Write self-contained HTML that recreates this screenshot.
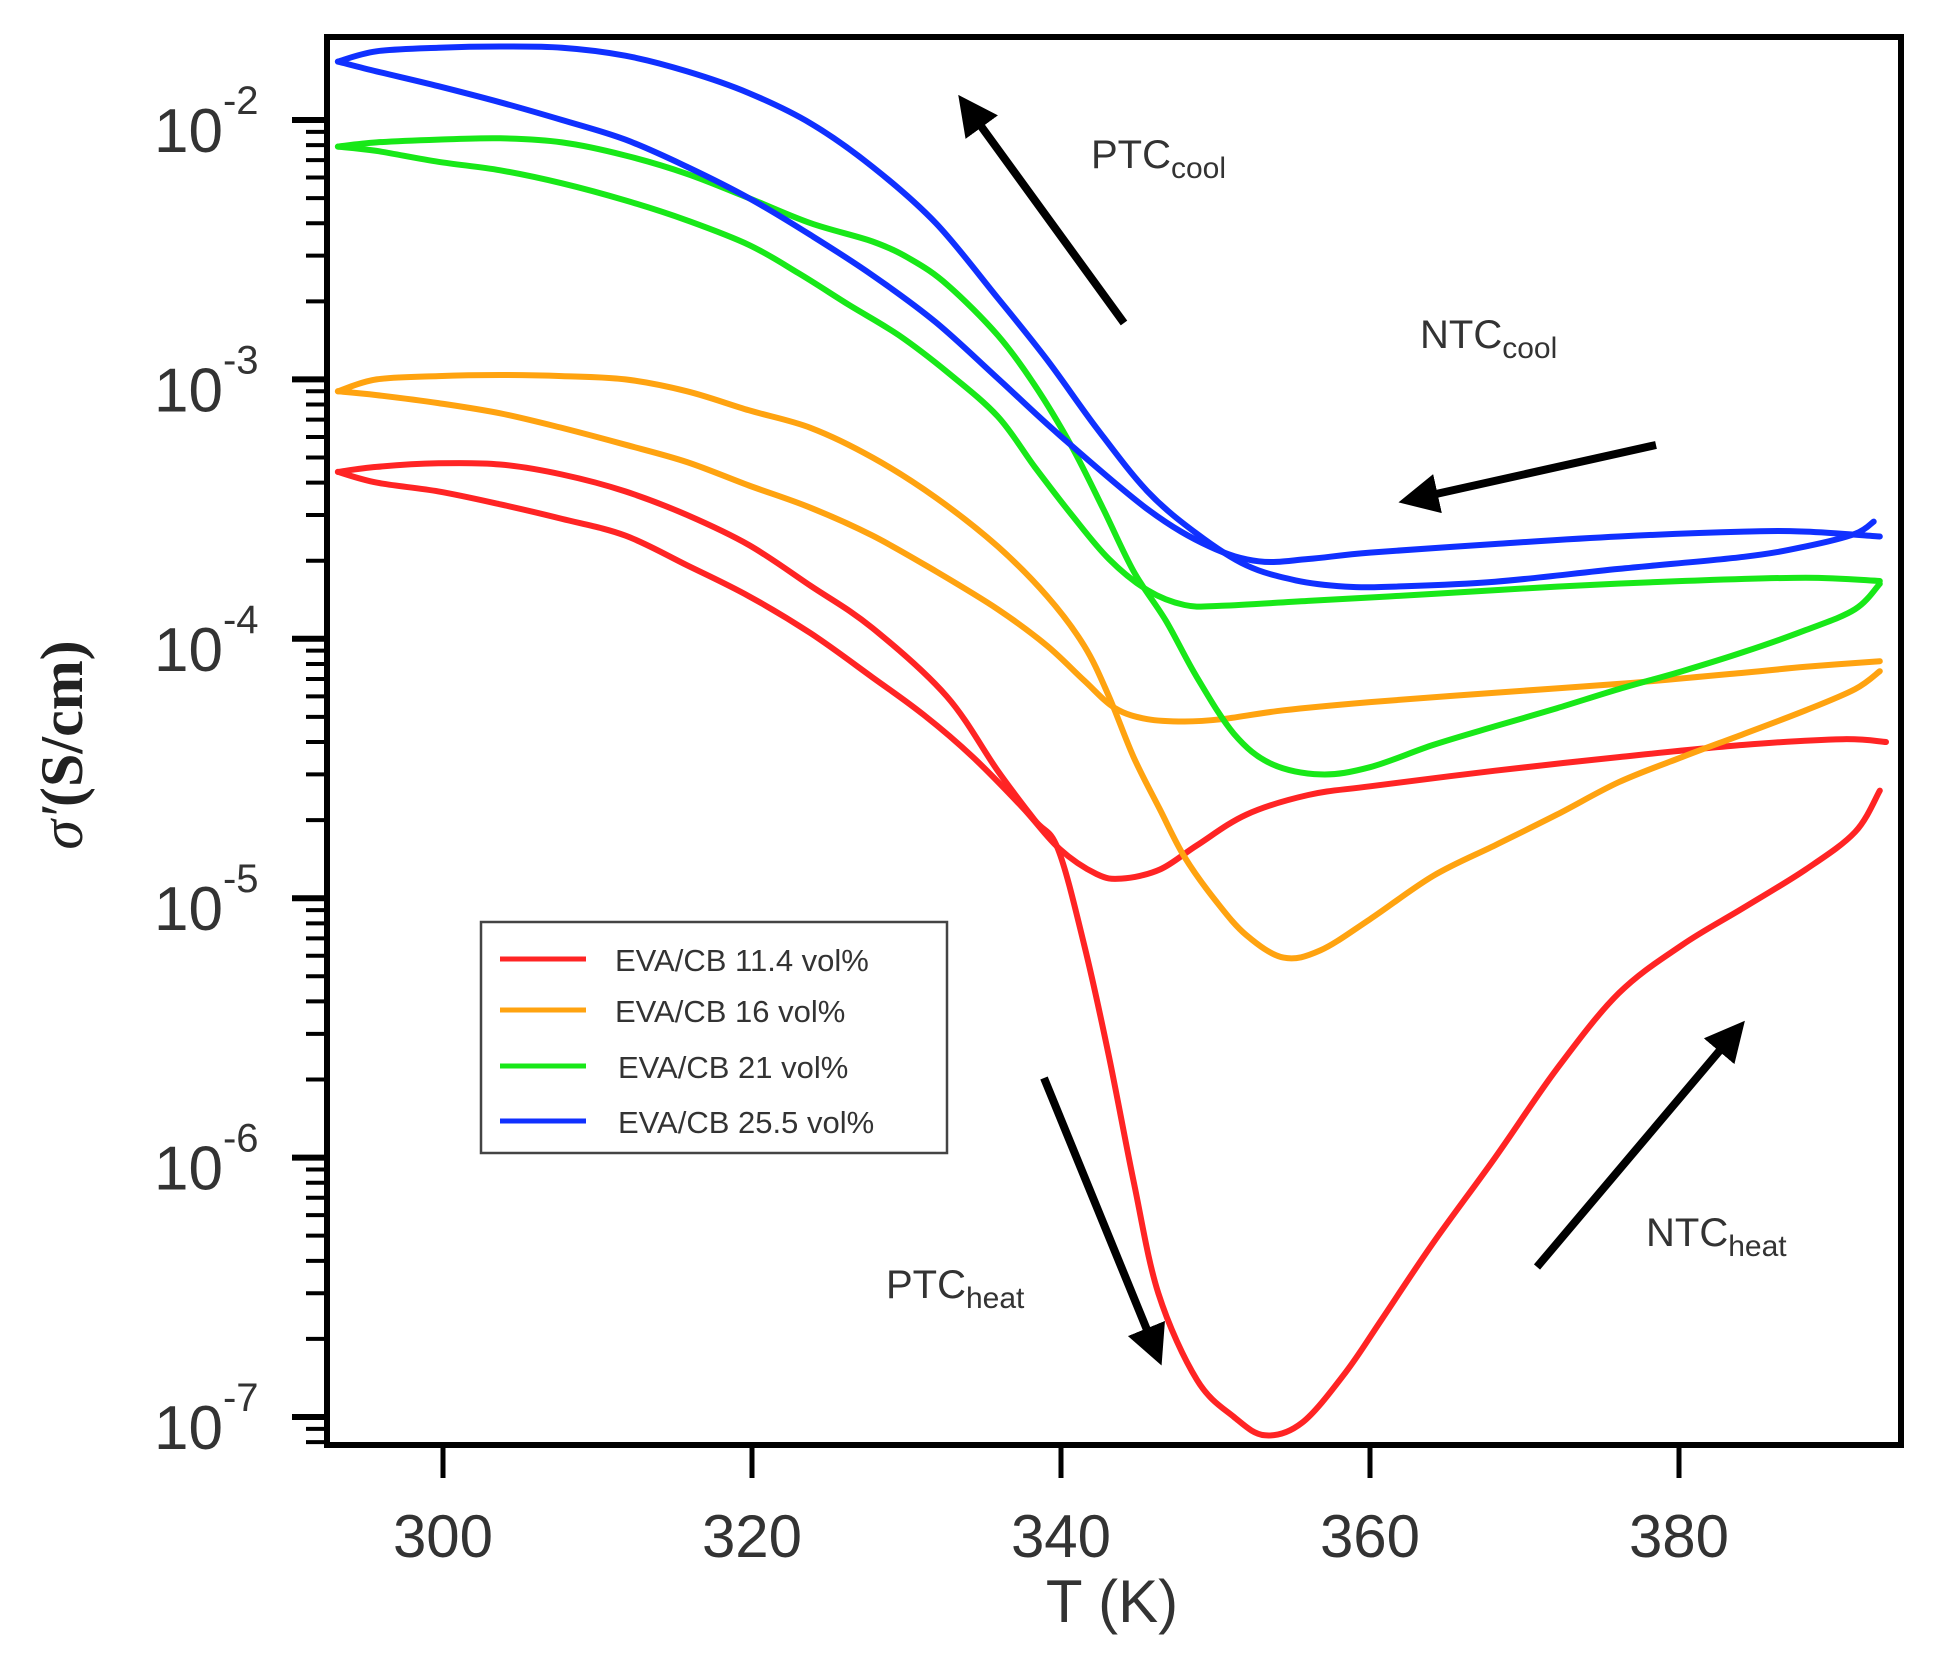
<!DOCTYPE html>
<html><head><meta charset="utf-8"><style>
html,body{margin:0;padding:0;background:#fff;}
svg{display:block;}
text{font-family:"Liberation Sans",sans-serif;fill:#333;}
</style></head><body>
<svg id="chart" width="1953" height="1661" viewBox="0 0 1953 1661" xmlns="http://www.w3.org/2000/svg">
<defs><marker id="ah" markerWidth="5" markerHeight="5" refX="2.5" refY="2.5" orient="auto" markerUnits="strokeWidth"><path d="M0,0 L5,2.5 L0,5 Z" fill="#000"/></marker></defs>
<g id="series"></g>
<g id="axes"></g>
<rect x="327" y="37" width="1574" height="1408" fill="none" stroke="#000" stroke-width="6"/>
<text x="1112" y="1622" font-size="60" text-anchor="middle">T (K)</text>
<text transform="translate(82,745) rotate(-90)" font-size="60" text-anchor="middle" style="font-family:'Liberation Serif',serif;fill:#222;font-weight:bold"><tspan font-style="italic" font-weight="normal">σ′</tspan>(S/cm)</text>
<g>
<rect x="481" y="922" width="466" height="231" fill="#fff" stroke="#444" stroke-width="2.5"/>
<line x1="500" y1="959" x2="586" y2="959" stroke="#ff2424" stroke-width="5"/>
<text x="615" y="971" font-size="31">EVA/CB 11.4 vol%</text>
<line x1="500" y1="1010" x2="586" y2="1010" stroke="#ffa310" stroke-width="5"/>
<text x="615" y="1022" font-size="31">EVA/CB 16 vol%</text>
<line x1="500" y1="1066" x2="586" y2="1066" stroke="#18e818" stroke-width="5"/>
<text x="618" y="1078" font-size="31">EVA/CB 21 vol%</text>
<line x1="500" y1="1121" x2="586" y2="1121" stroke="#1030ff" stroke-width="5"/>
<text x="618" y="1133" font-size="31">EVA/CB 25.5 vol%</text>
</g>
<g stroke="#000" stroke-width="8">
<line x1="1124" y1="323" x2="970" y2="111" marker-end="url(#ah)"/>
<line x1="1656" y1="445" x2="1418" y2="498" marker-end="url(#ah)"/>
<line x1="1044" y1="1078" x2="1154" y2="1347" marker-end="url(#ah)"/>
<line x1="1537" y1="1267" x2="1732" y2="1036" marker-end="url(#ah)"/>
</g>
<text x="1091" y="168" font-size="40">PTC<tspan font-size="30" dy="10">cool</tspan></text>
<text x="1420" y="348" font-size="40">NTC<tspan font-size="30" dy="10">cool</tspan></text>
<text x="886" y="1298" font-size="40">PTC<tspan font-size="30" dy="10">heat</tspan></text>
<text x="1646" y="1246" font-size="40">NTC<tspan font-size="30" dy="10">heat</tspan></text>
</svg>
<script>
const xTicks=[300,320,340,360,380];
const yDecades=[-2,-3,-4,-5,-6,-7];
const redHeatT=[293.2,295.7,299.7,303.7,307.7,311.8,315.8,319.8,323.8,327.8,332.6,335.9,338.3,339.8,341.5,343.1,344.7,346.3,348.8,351.2,353.2,355.6,358.4,360.8,364.1,368.1,372.1,376.1,380.2,384.2,388.2,391.4,393.0];
const redHeatV=[4.4e-4,4.6e-4,4.75e-4,4.7e-4,4.3e-4,3.7e-4,3.0e-4,2.3e-4,1.6e-4,1.1e-4,6e-5,3.1e-5,2.0e-5,1.55e-5,6.6e-6,2.46e-6,8.1e-7,3.0e-7,1.39e-7,1.0e-7,8.5e-8,9.5e-8,1.48e-7,2.4e-7,4.7e-7,1.0e-6,2.2e-6,4.3e-6,6.6e-6,9.2e-6,1.29e-5,1.8e-5,2.6e-5];
const redCoolT=[393.4,390.6,384.2,376.1,368.1,360,356,352,348.8,346.4,343.9,342.3,339.9,337.5,334.3,331.1,327.8,323.8,319.8,315.8,311.8,307.7,303.7,299.7,295.7,293.2];
const redCoolV=[4.0e-5,4.1e-5,3.9e-5,3.5e-5,3.1e-5,2.7e-5,2.5e-5,2.1e-5,1.6e-5,1.29e-5,1.19e-5,1.24e-5,1.55e-5,2.24e-5,3.5e-5,5.1e-5,7.1e-5,1.05e-4,1.46e-4,1.92e-4,2.5e-4,2.9e-4,3.3e-4,3.7e-4,4.0e-4,4.4e-4];
const orangeHeatT=[293.2,295.7,299.7,303.7,307.7,311.8,315.8,319.8,323.8,327.8,331.9,335.9,339.1,341.5,343.1,344.7,346.4,348.0,350.0,352.0,354.4,356.8,360.0,364.1,368.1,372.1,376.1,380.2,384.2,388.2,391.4,393.0];
const orangeHeatV=[9.0e-4,1.0e-3,1.03e-3,1.04e-3,1.03e-3,1.0e-3,9.0e-4,7.6e-4,6.5e-4,5.0e-4,3.5e-4,2.27e-4,1.46e-4,9.4e-5,6.0e-5,3.5e-5,2.2e-5,1.44e-5,9.8e-6,7.2e-6,5.9e-6,6.3e-6,8.3e-6,1.22e-5,1.6e-5,2.1e-5,2.8e-5,3.5e-5,4.3e-5,5.3e-5,6.4e-5,7.5e-5];
const orangeCoolT=[393.0,388.2,384.2,376.1,368.1,360.0,354.4,350.4,348.0,345.6,343.5,341.5,339.1,335.9,331.9,327.8,323.8,319.8,315.8,311.8,307.7,303.7,299.7,295.7,293.2];
const orangeCoolV=[8.2e-5,7.8e-5,7.4e-5,6.7e-5,6.2e-5,5.7e-5,5.3e-5,4.9e-5,4.8e-5,4.9e-5,5.4e-5,6.9e-5,9.4e-5,1.3e-4,1.82e-4,2.5e-4,3.2e-4,3.9e-4,4.8e-4,5.6e-4,6.5e-4,7.4e-4,8.1e-4,8.7e-4,9.0e-4];
const greenHeatT=[293.2,295.7,299.7,303.7,307.7,311.8,315.8,319.8,323.8,327.8,330.3,332.7,335.9,338.3,340.7,342.7,344.7,346.8,348.8,351.2,353.6,356.8,360.0,364.1,368.1,372.1,376.1,380.2,384.2,388.2,391.4,393.0];
const greenHeatV=[7.9e-3,8.2e-3,8.4e-3,8.5e-3,8.2e-3,7.3e-3,6.2e-3,5.0e-3,4.0e-3,3.4e-3,2.9e-3,2.3e-3,1.48e-3,9.5e-4,5.5e-4,3.2e-4,1.82e-4,1.17e-4,7.1e-5,4.3e-5,3.3e-5,3.0e-5,3.2e-5,3.9e-5,4.6e-5,5.4e-5,6.4e-5,7.5e-5,8.9e-5,1.08e-4,1.3e-4,1.63e-4];
const greenCoolT=[393,388.2,380.2,372.1,364.1,356,350.4,348,345.6,343.1,340.7,338.3,335.9,332.7,329.5,326.2,323,319.8,315.8,311.8,307.7,303.7,299.7,295.7,293.2];
const greenCoolV=[1.67e-4,1.72e-4,1.67e-4,1.59e-4,1.49e-4,1.4e-4,1.34e-4,1.35e-4,1.54e-4,2.03e-4,3.0e-4,4.6e-4,7.2e-4,1.06e-3,1.48e-3,1.95e-3,2.57e-3,3.3e-3,4.1e-3,4.9e-3,5.7e-3,6.4e-3,6.9e-3,7.6e-3,7.9e-3];
const blueHeatT=[293.2,295.7,299.7,303.7,307.7,311.8,315.8,319.8,323.8,327.8,331.9,335.9,339.1,342.3,345.6,348.8,352.0,355.2,358.4,361.6,368.1,376.1,384.2,388.2,391.4,392.6];
const blueHeatV=[1.68e-2,1.84e-2,1.9e-2,1.92e-2,1.9e-2,1.77e-2,1.54e-2,1.27e-2,9.7e-3,6.6e-3,4.0e-3,2.06e-3,1.19e-3,6.5e-4,3.7e-4,2.54e-4,1.92e-4,1.68e-4,1.59e-4,1.59e-4,1.66e-4,1.86e-4,2.07e-4,2.27e-4,2.54e-4,2.83e-4];
const blueCoolT=[393,388.2,384.2,376.1,368.1,360,356,352.8,349.6,345.6,339.9,335.9,331.9,327.8,323.8,319.8,315.8,311.8,307.7,303.7,299.7,295.7,293.2];
const blueCoolV=[2.48e-4,2.59e-4,2.59e-4,2.48e-4,2.32e-4,2.15e-4,2.03e-4,1.99e-4,2.27e-4,3.16e-4,6.1e-4,1.01e-3,1.66e-3,2.52e-3,3.6e-3,5.0e-3,6.6e-3,8.4e-3,1.0e-2,1.17e-2,1.35e-2,1.54e-2,1.68e-2];

const NS='http://www.w3.org/2000/svg';
function X(t){return 443+(t-300)*15.45;}
function Y(v){return 120+(-2-Math.log10(v))*259.4;}
const series=document.getElementById('series');
const axes=document.getElementById('axes');
function smoothPath(P){
  let d='M'+P[0][0].toFixed(1)+','+P[0][1].toFixed(1);
  for(let i=0;i<P.length-1;i++){
    const p0=P[Math.max(0,i-1)],p1=P[i],p2=P[i+1],p3=P[Math.min(P.length-1,i+2)];
    const c1x=p1[0]+(p2[0]-p0[0])/6,c1y=p1[1]+(p2[1]-p0[1])/6;
    const c2x=p2[0]-(p3[0]-p1[0])/6,c2y=p2[1]-(p3[1]-p1[1])/6;
    d+=' C'+c1x.toFixed(1)+','+c1y.toFixed(1)+' '+c2x.toFixed(1)+','+c2y.toFixed(1)+' '+p2[0].toFixed(1)+','+p2[1].toFixed(1);
  }
  return d;
}
function drawLine(T,V,color,name){
  const p=document.createElementNS(NS,'path');
  p.setAttribute('d',smoothPath(T.map((t,i)=>[X(t),Y(V[i])])));
  p.setAttribute('fill','none');p.setAttribute('stroke',color);
  p.setAttribute('stroke-width','6');p.setAttribute('stroke-linejoin','round');p.setAttribute('stroke-linecap','round');
  
  
  series.appendChild(p);
}
drawLine(redHeatT,redHeatV,'#ff2424','red-heating-curve');
drawLine(redCoolT,redCoolV,'#ff2424','red-cooling-curve');
drawLine(orangeHeatT,orangeHeatV,'#ffa310','orange-heating-curve');
drawLine(orangeCoolT,orangeCoolV,'#ffa310','orange-cooling-curve');
drawLine(greenHeatT,greenHeatV,'#18e818','green-heating-curve');
drawLine(greenCoolT,greenCoolV,'#18e818','green-cooling-curve');
drawLine(blueHeatT,blueHeatV,'#1030ff','blue-heating-curve');
drawLine(blueCoolT,blueCoolV,'#1030ff','blue-cooling-curve');
function ln(x1,y1,x2,y2,w,name){
  const l=document.createElementNS(NS,'line');
  l.setAttribute('x1',x1);l.setAttribute('y1',y1);l.setAttribute('x2',x2);l.setAttribute('y2',y2);
  l.setAttribute('stroke','#000');l.setAttribute('stroke-width',w);
  
  
  axes.appendChild(l);
}
xTicks.forEach(t=>{
  ln(X(t),1445,X(t),1478,5,'x-tick');
  const tx=document.createElementNS(NS,'text');
  tx.setAttribute('x',X(t));tx.setAttribute('y',1557);tx.setAttribute('font-size','60');tx.setAttribute('text-anchor','middle');
  tx.textContent=t;
  
  
  axes.appendChild(tx);
});
yDecades.forEach(d=>{
  const y=Y(Math.pow(10,d));
  ln(292,y,327,y,6,'y-major-tick');
  if(d>-7){for(let m=2;m<10;m++){const ym=Y(m*Math.pow(10,d-1));ln(306,ym,327,ym,4,'y-minor-tick');}}
  else{for(let m=9;m>=8;m--){const ym=Y(m*Math.pow(10,d-1));if(ym<1445)ln(306,ym,327,ym,4,'y-minor-tick');}}
  const tx=document.createElementNS(NS,'text');
  tx.setAttribute('x',154);tx.setAttribute('y',y+32);tx.setAttribute('font-size','62');
  tx.innerHTML='10<tspan font-size="40" dy="-38">'+d+'</tspan>';
  
  
  axes.appendChild(tx);
});
</script>
</body></html>
